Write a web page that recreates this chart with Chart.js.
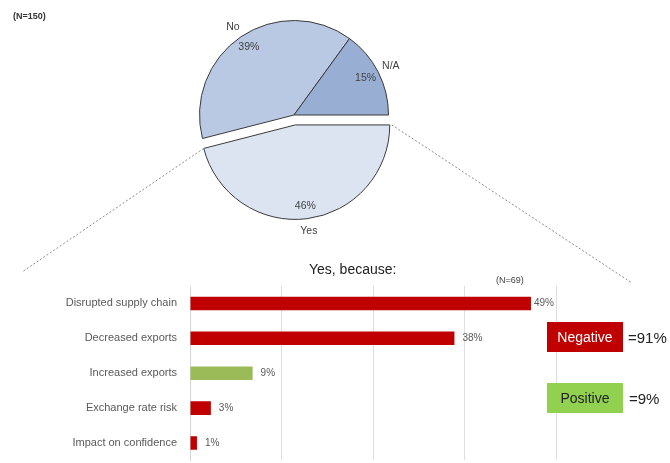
<!DOCTYPE html>
<html>
<head>
<meta charset="utf-8">
<script src="https://cdn.jsdelivr.net/npm/chart.js@4.4.1/dist/chart.umd.min.js"></script>
<style>
  body { margin: 0; width: 670px; height: 463px; overflow: hidden; position: relative; background: #fff;
         font-family: "Liberation Sans", Arial, sans-serif; }
  canvas { position: absolute; left: 0; }
  .txt { position: absolute; white-space: nowrap; }
  .box { position: absolute; width: 76px; height: 30px; line-height: 30px; text-align: center; font-size: 14px; }
</style>
</head>
<body>
<canvas id="pie" width="670" height="463" style="top:0"></canvas>
<canvas id="bars" width="670" height="230" style="top:250px"></canvas>

<div class="txt" style="left:13px; top:11px; font-size:9px; font-weight:bold; color:#333">(N=150)</div>
<div class="txt" style="left:309px; top:261px; font-size:14px; color:#222">Yes, because:</div>
<div class="txt" style="left:496px; top:275px; font-size:9px; color:#404040">(N=69)</div>

<div class="box" style="left:547px; top:322px; background:#c00000; color:#fff">Negative</div>
<div class="txt" style="left:628px; top:329px; font-size:15px; color:#222">=91%</div>
<div class="box" style="left:547px; top:383px; background:#92d050; color:#222">Positive</div>
<div class="txt" style="left:629px; top:390px; font-size:15px; color:#222">=9%</div>

<script>
// 데이터
const pieLabels = ['Yes', 'No', 'N/A'];
const pieValues = [46, 39, 15];

const reasonLabels = ['Disrupted supply chain', 'Decreased exports', 'Increased exports', 'Exchange rate risk', 'Impact on confidence'];
const reasonValues = [49, 38, 9, 3, 1];
const reasonPositive = [false, false, true, false, false];

// 눈금 없는 세로 격자선 위치
const gridTicks = [0, 13.15, 26.3, 39.45, 52.6];

// 색상
const pieColors = ['#dce4f2', '#b9c9e3', '#98aed3'];
const negColor = '#c00000';
const posColor = '#9bbb59';

// 'Yes' 조각만 밖으로 빼기 (offset 옵션은 반지름까지 키워서 직접 이동)
const EXPLODE = 10;
function explodeShift(arc, i) {
    if (i !== 0) return { dx: 0, dy: 0 };
    const mid = (arc.startAngle + arc.endAngle) / 2;
    return { dx: Math.cos(mid) * EXPLODE, dy: Math.sin(mid) * EXPLODE };
}

const pieDecor = {
    id: 'pieDecor',
    beforeDatasetDraw(chart) {
        const ctx = chart.ctx;
        chart.getDatasetMeta(0).data.forEach((arc, i) => {
            const s = explodeShift(arc, i);
            ctx.save();
            ctx.translate(s.dx, s.dy);
            arc.draw(ctx);
            ctx.restore();
        });
        return false;
    },
    afterDraw(chart) {
        const ctx = chart.ctx;
        const arcs = chart.getDatasetMeta(0).data;

        // 점선
        const yes = arcs[0];
        const s0 = explodeShift(yes, 0);
        const ox = yes.x + s0.dx, oy = yes.y + s0.dy;
        ctx.save();
        ctx.strokeStyle = '#8c8c8c';
        ctx.lineWidth = 1;
        ctx.setLineDash([2, 2]);
        ctx.beginPath();
        ctx.moveTo(ox + yes.outerRadius * Math.cos(yes.endAngle), oy + yes.outerRadius * Math.sin(yes.endAngle));
        ctx.lineTo(22, 272);
        ctx.moveTo(ox + yes.outerRadius * Math.cos(yes.startAngle) + 2, oy + yes.outerRadius * Math.sin(yes.startAngle));
        ctx.lineTo(632, 283);
        ctx.stroke();
        ctx.restore();

        // 라벨
        ctx.save();
        ctx.font = '10.5px "Liberation Sans", Arial, sans-serif';
        ctx.fillStyle = '#404040';
        ctx.textAlign = 'center';
        ctx.textBaseline = 'middle';
        arcs.forEach((arc, i) => {
            const mid = (arc.startAngle + arc.endAngle) / 2;
            const r = arc.outerRadius;
            const s = explodeShift(arc, i);
            const cx = arc.x + s.dx, cy = arc.y + s.dy;
            ctx.fillText(pieValues[i] + '%', cx + Math.cos(mid) * r * 0.85, cy + Math.sin(mid) * r * 0.87);
            ctx.fillText(pieLabels[i], cx + Math.cos(mid) * r * 1.15, cy + Math.sin(mid) * r * 1.13);
        });
        ctx.restore();
    }
};

new Chart(document.getElementById('pie'), {
    type: 'pie',
    data: {
        labels: pieLabels,
        datasets: [{
            data: pieValues,
            backgroundColor: pieColors,
            borderColor: '#3a3a3a',
            borderWidth: 1
        }]
    },
    options: {
        responsive: false,
        animation: false,
        rotation: 90,
        layout: { padding: { left: 199, right: 281, top: 20, bottom: 253 } },
        plugins: { legend: { display: false }, tooltip: { enabled: false } }
    },
    plugins: [pieDecor]
});

// 막대 끝 퍼센트 라벨
const barValues = {
    id: 'barValues',
    afterDatasetsDraw(chart) {
        const ctx = chart.ctx;
        ctx.save();
        ctx.font = '10px "Liberation Sans", Arial, sans-serif';
        ctx.fillStyle = '#595959';
        ctx.textAlign = 'left';
        ctx.textBaseline = 'middle';
        chart.getDatasetMeta(0).data.forEach((bar, i) => {
            ctx.fillText(reasonValues[i] + '%', bar.x + (i === 0 ? 3 : 8), bar.y);
        });
        ctx.restore();
    }
};

new Chart(document.getElementById('bars'), {
    type: 'bar',
    data: {
        labels: reasonLabels,
        datasets: [{
            data: reasonValues,
            backgroundColor: reasonPositive.map(p => p ? posColor : negColor),
            categoryPercentage: 1,
            barPercentage: 0.39
        }]
    },
    options: {
        indexAxis: 'y',
        responsive: false,
        animation: false,
        layout: { padding: { left: 0, right: 114, top: 36, bottom: 14 } },
        plugins: { legend: { display: false }, tooltip: { enabled: false } },
        scales: {
            x: {
                min: 0,
                max: 52.6,
                afterBuildTicks: s => { s.ticks = gridTicks.map(v => ({ value: v })); },
                ticks: { display: false },
                grid: { color: '#dedede', drawTicks: false },
                border: { display: false }
            },
            y: {
                afterFit: s => { s.width = 190; },
                grid: { display: false, drawTicks: false },
                border: { display: true, color: '#d4d4d4' },
                ticks: {
                    color: '#595959',
                    padding: 13,
                    font: { family: '"Liberation Sans", Arial, sans-serif', size: 11 }
                }
            }
        }
    },
    plugins: [barValues]
});
</script>
</body>
</html>
